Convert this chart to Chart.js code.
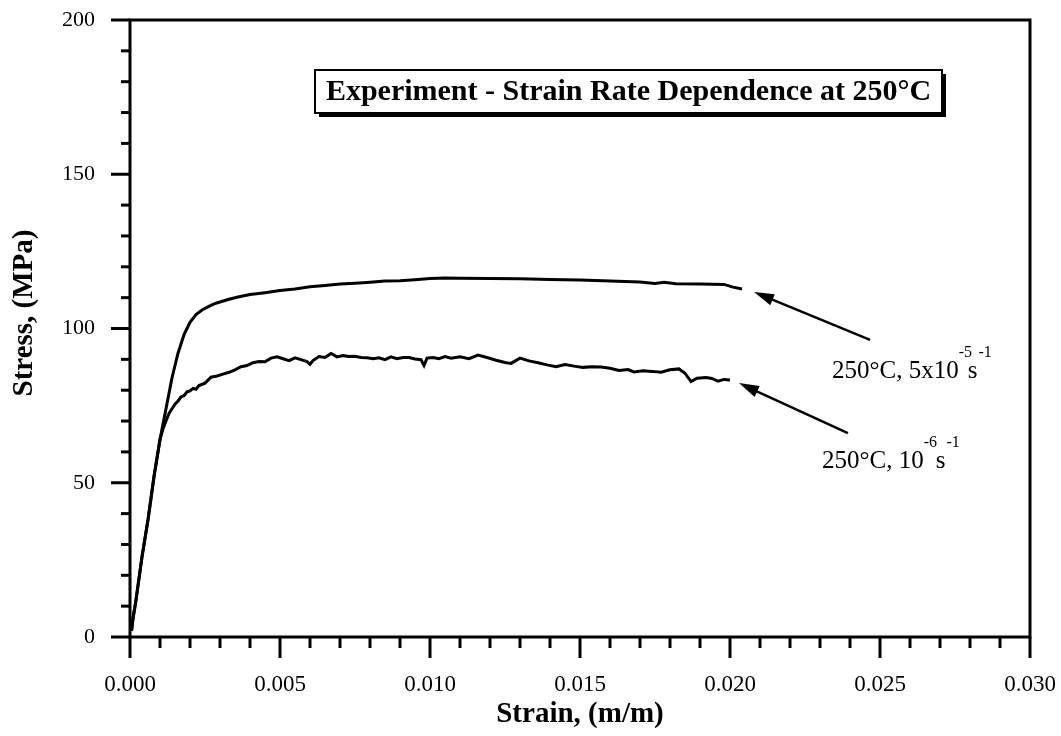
<!DOCTYPE html>
<html>
<head>
<meta charset="utf-8">
<script src="https://cdn.jsdelivr.net/npm/chart.js@4.4.1/dist/chart.umd.min.js"></script>
<style>
  body { margin: 0; background: #fff; }
  #wrap { width: 1061px; height: 736px; }
</style>
</head>
<body>
<div id="wrap"><canvas id="stress-chart" width="1061" height="736"></canvas></div>
<script>
// strain rate 5x10^-5 s^-1
const fastStrain = [0.00005, 0.0001, 0.0002, 0.0003, 0.0004, 0.0005, 0.0006, 0.0007, 0.0008, 0.0009,
  0.0010, 0.0011, 0.0012, 0.0013, 0.0014, 0.0015, 0.0016, 0.0017, 0.0018, 0.0019,
  0.0020, 0.0022, 0.0024, 0.0026, 0.0028, 0.0030, 0.0033, 0.0036, 0.0040, 0.0045,
  0.0050, 0.0055, 0.0060, 0.0065, 0.0070, 0.0075, 0.0080, 0.0085, 0.0090, 0.0095,
  0.0100, 0.0105, 0.0110, 0.0120, 0.0130, 0.0140, 0.0150, 0.0160, 0.0170, 0.0175,
  0.0178, 0.0182, 0.0190, 0.0198, 0.0201, 0.0204];
const fastStress = [2, 6, 12, 19, 26, 32, 38, 45, 52, 58,
  64, 69, 74, 79, 84, 88, 92, 95, 98, 100,
  102, 104.5, 106, 107, 108, 108.6, 109.5, 110.2, 111, 111.6,
  112.3, 112.8, 113.5, 113.9, 114.4, 114.7, 115, 115.4, 115.5, 115.8,
  116.2, 116.4, 116.3, 116.2, 116.1, 115.9, 115.7, 115.4, 115.1, 114.6,
  115, 114.5, 114.4, 114.3, 113.4, 112.8];

// strain rate 10^-6 s^-1
const slowStrain = [0.00005, 0.0001, 0.0002, 0.0003, 0.0004, 0.0005, 0.0006, 0.0007, 0.0008, 0.0009,
  0.0010, 0.0011, 0.0012, 0.0013, 0.0014, 0.0015, 0.0016, 0.0017, 0.0018, 0.0019,
  0.0020, 0.0021, 0.0022, 0.0023, 0.0025, 0.0027, 0.0029, 0.0031, 0.0033, 0.0035,
  0.0037, 0.0039, 0.0041, 0.0043, 0.0045, 0.0047, 0.0049, 0.0051, 0.0053, 0.0055,
  0.0057, 0.0059, 0.0060, 0.0061, 0.0063, 0.0065, 0.0067, 0.0069, 0.0071, 0.0073,
  0.0075, 0.0077, 0.0079, 0.0081, 0.0083, 0.0085, 0.0087, 0.0089, 0.0091, 0.0093,
  0.0095, 0.0097, 0.0098, 0.0099, 0.0101, 0.0103, 0.0105, 0.0107, 0.0110, 0.0113,
  0.0116, 0.0119, 0.0122, 0.0125, 0.0127, 0.0130, 0.0133, 0.0136, 0.0139, 0.0142,
  0.0145, 0.0148, 0.0151, 0.0154, 0.0157, 0.0160, 0.0163, 0.0166, 0.0168, 0.0171,
  0.0174, 0.0177, 0.0180, 0.0183, 0.0185, 0.0187, 0.0189, 0.0192, 0.0194, 0.0196,
  0.0198, 0.0200];
const slowStress = [2, 6, 12, 19, 26, 32, 38, 45, 52, 58,
  64, 67.5, 70, 72.5, 74, 75.5, 76.5, 77.8, 78.2, 79.5,
  79.8, 80.6, 80.3, 81.5, 82.3, 84.2, 84.6, 85.2, 85.8, 86.6,
  87.6, 88, 88.9, 89.3, 89.2, 90.4, 90.8, 90.2, 89.6, 90.5,
  89.9, 89.3, 88.4, 89.6, 90.9, 90.6, 91.9, 90.8, 91.2, 90.9,
  91, 90.6, 90.5, 90.2, 90.5, 89.9, 90.8, 90.2, 90.6, 90.6,
  90.1, 89.9, 88, 90.4, 90.6, 90.2, 90.9, 90.4, 90.8, 90.2,
  91.4, 90.6, 89.7, 89, 88.7, 90.4, 89.5, 88.9, 88.2, 87.6,
  88.3, 87.8, 87.4, 87.6, 87.5, 87.1, 86.4, 86.7, 85.9, 86.3,
  86.1, 85.8, 86.6, 86.9, 85.5, 82.8, 83.9, 84.1, 83.8, 82.9,
  83.5, 83.3];

const xTicks = [0, 0.005, 0.010, 0.015, 0.020, 0.025, 0.030];
const yTicks = [0, 50, 100, 150, 200];

// pointer arrows [tail strain, tail stress, head strain, head stress]
const fastArrow = [0.02467, 96.3, 0.0208, 111.8];
const slowArrow = [0.02393, 66.1, 0.0203, 82.3];

const chartTitle = "Experiment - Strain Rate Dependence at 250°C";
const yTitle = "Stress, (MPa)";
const fastLabel = ["250°C, 5x10", "-5", "s", "-1"];
const slowLabel = ["250°C, 10", "-6", "s", "-1"];

function toPts(xs, ys) {
    return xs.map((x, i) => ({ x: x, y: ys[i] }));
}

const SERIF = "'Liberation Serif', 'Times New Roman', serif";

const decorPlugin = {
    id: "decor",
    afterDraw(chart) {
        const ctx = chart.ctx;
        const xs = chart.scales.x;
        const ys = chart.scales.y;
        const area = chart.chartArea;
        ctx.save();
        ctx.strokeStyle = "#000";
        ctx.fillStyle = "#000";

        // frame
        ctx.lineWidth = 3;
        ctx.strokeRect(area.left, area.top, area.right - area.left, area.bottom - area.top);

        // x ticks (minor every 0.001)
        for (let i = 0; i <= 30; i++) {
            const px = xs.getPixelForValue(i * 0.001);
            const len = i % 5 == 0 ? 21 : 11;
            ctx.beginPath();
            ctx.moveTo(px, area.bottom);
            ctx.lineTo(px, area.bottom + len);
            ctx.stroke();
        }
        // y ticks (minor every 10)
        for (let i = 0; i <= 20; i++) {
            const py = ys.getPixelForValue(i * 10);
            const len = i % 5 == 0 ? 19 : 9;
            ctx.beginPath();
            ctx.moveTo(area.left, py);
            ctx.lineTo(area.left - len, py);
            ctx.stroke();
        }

        // y axis title
        ctx.save();
        ctx.translate(25, 313);
        ctx.rotate(-Math.PI / 2);
        ctx.font = "bold 29px " + SERIF;
        ctx.textAlign = "center";
        ctx.textBaseline = "middle";
        ctx.fillText(yTitle, 0, 0);
        ctx.restore();

        // arrows
        function arrow(a) {
            const x1 = xs.getPixelForValue(a[0]), y1 = ys.getPixelForValue(a[1]);
            const x2 = xs.getPixelForValue(a[2]), y2 = ys.getPixelForValue(a[3]);
            const ang = Math.atan2(y2 - y1, x2 - x1);
            ctx.lineWidth = 2.5;
            ctx.beginPath();
            ctx.moveTo(x1, y1);
            ctx.lineTo(x2 - 10 * Math.cos(ang), y2 - 10 * Math.sin(ang));
            ctx.stroke();
            ctx.beginPath();
            ctx.moveTo(x2, y2);
            ctx.lineTo(x2 - 20 * Math.cos(ang) + 6 * Math.sin(ang), y2 - 20 * Math.sin(ang) - 6 * Math.cos(ang));
            ctx.lineTo(x2 - 20 * Math.cos(ang) - 6 * Math.sin(ang), y2 - 20 * Math.sin(ang) + 6 * Math.cos(ang));
            ctx.closePath();
            ctx.fill();
        }
        arrow(fastArrow);
        arrow(slowArrow);

        // curve labels with superscripts
        function rateLabel(parts, x, y, gap) {
            ctx.textAlign = "left";
            ctx.textBaseline = "alphabetic";
            ctx.font = "25px " + SERIF;
            ctx.fillText(parts[0], x, y);
            const w0 = ctx.measureText(parts[0]).width;
            const sx = x + w0 + gap;
            ctx.fillText(parts[2], sx, y);
            const ws = ctx.measureText(parts[2]).width;
            ctx.font = "16px " + SERIF;
            ctx.fillText(parts[1], x + w0, y - 21);
            ctx.fillText(parts[3], sx + ws + 1, y - 21);
        }
        rateLabel(fastLabel, 832, 378, 9);
        rateLabel(slowLabel, 822, 468, 12);

        // title box
        const bx = 315, by = 70, bw = 627, bh = 43;
        ctx.fillStyle = "#000";
        ctx.fillRect(bx + 4, by + 4, bw, bh);
        ctx.fillStyle = "#fff";
        ctx.fillRect(bx, by, bw, bh);
        ctx.lineWidth = 2;
        ctx.strokeRect(bx, by, bw, bh);
        ctx.fillStyle = "#000";
        ctx.font = "bold 30px " + SERIF;
        ctx.textAlign = "center";
        ctx.textBaseline = "middle";
        ctx.fillText(chartTitle, bx + bw / 2, by + bh / 2 + 1);
        ctx.restore();
    }
};

new Chart("stress-chart", {
    type: "line",
    data: {
        datasets: [
            {
                label: "250°C, 5x10^-5 s^-1",
                data: toPts(fastStrain, fastStress),
                borderColor: "#000",
                borderWidth: 3,
                pointRadius: 0,
                tension: 0,
                fill: false,
            },
            {
                label: "250°C, 10^-6 s^-1",
                data: toPts(slowStrain, slowStress),
                borderColor: "#000",
                borderWidth: 3,
                pointRadius: 0,
                tension: 0,
                fill: false,
            },
        ],
    },
    options: {
        responsive: false,
        animation: false,
        layout: { padding: { top: 20, right: 31, left: 0, bottom: 0 } },
        plugins: {
            legend: { display: false },
            tooltip: { enabled: false },
        },
        scales: {
            x: {
                type: "linear",
                min: 0,
                max: 0.03,
                afterBuildTicks: (scale) => { scale.ticks = xTicks.map(v => ({ value: v })); },
                afterFit: (scale) => {
                    scale.height = 99;
                    scale.paddingLeft = 0;
                    scale.paddingRight = 0;
                },
                grid: { display: false },
                border: { display: false },
                ticks: {
                    color: "#000",
                    padding: 26,
                    maxRotation: 0,
                    font: { family: SERIF, size: 23 },
                    callback: (v) => v.toFixed(3),
                },
                title: {
                    display: true,
                    text: "Strain, (m/m)",
                    color: "#000",
                    font: { family: SERIF, size: 29, weight: "bold" },
                    padding: { top: 0, bottom: 4 },
                },
            },
            y: {
                min: 0,
                max: 200,
                afterBuildTicks: (scale) => { scale.ticks = yTicks.map(v => ({ value: v })); },
                afterFit: (scale) => {
                    scale.width = 130;
                    scale.paddingTop = 0;
                    scale.paddingBottom = 0;
                },
                grid: { display: false },
                border: { display: false },
                ticks: {
                    color: "#000",
                    padding: 27,
                    font: { family: SERIF, size: 22 },
                },
            },
        },
    },
    plugins: [decorPlugin],
});
</script>
</body>
</html>
